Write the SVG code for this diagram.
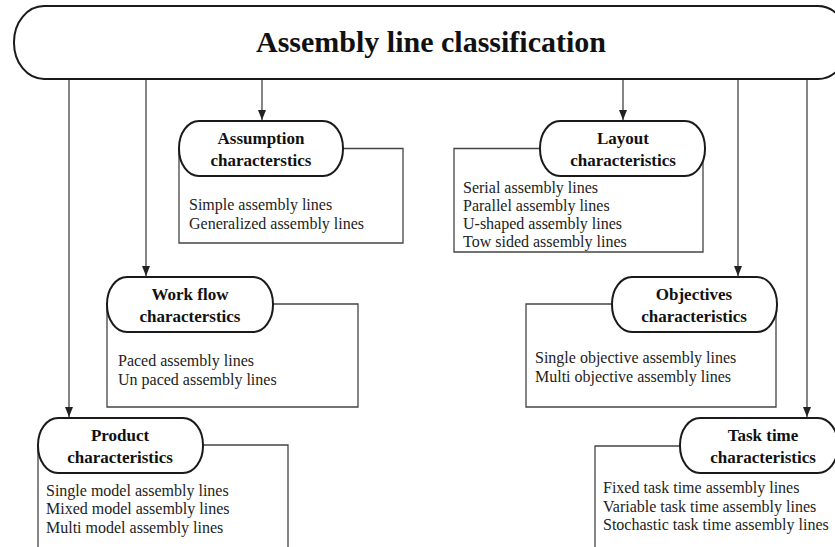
<svg xmlns="http://www.w3.org/2000/svg" width="835" height="547" viewBox="0 0 835 547">
<style>
.pill{fill:#fff;stroke:#1a1a1a;stroke-width:2}
.frame{fill:none;stroke:#444;stroke-width:1.3}
.conn{fill:none;stroke:#333;stroke-width:1.2}
.title{font-family:"Liberation Serif","Times New Roman",serif;font-weight:bold;font-size:30px;fill:#111;text-anchor:middle}
.head{font-family:"Liberation Serif","Times New Roman",serif;font-weight:bold;font-size:17px;fill:#111;text-anchor:middle}
.body{font-family:"Liberation Serif","Times New Roman",serif;font-size:16px;fill:#222}
</style>
<defs>
<marker id="arr" markerUnits="userSpaceOnUse" markerWidth="11" markerHeight="8" refX="10" refY="4" orient="auto" viewBox="0 0 11 8">
<path d="M0,0 L10,4 L0,8 Z" fill="#222"/>
</marker>
</defs>
<rect width="835" height="547" fill="#fff"/>

<g id="connectors">
<path class="conn" d="M69,79 V417" marker-end="url(#arr)"/>
<path class="conn" d="M146,79 V276" marker-end="url(#arr)"/>
<path class="conn" d="M262,79 V120" marker-end="url(#arr)"/>
<path class="conn" d="M623,79 V120" marker-end="url(#arr)"/>
<path class="conn" d="M738,79 V276" marker-end="url(#arr)"/>
<path class="conn" d="M807,79 V417" marker-end="url(#arr)"/>
</g>

<g id="root">
<rect class="pill" x="14" y="6" width="834" height="73" rx="30" ry="36"/>
<text class="title" x="431" y="52">Assembly line classification</text>
</g>

<g id="assumption">
<path class="frame" d="M343,148.5 H403 V243 H179 V148.5"/>
<rect class="pill" x="179" y="121" width="164" height="55" rx="20" ry="27"/>
<text class="head" x="261" y="144">Assumption</text>
<text class="head" x="261" y="166">characterstics</text>
<text class="body" x="189" y="210">Simple assembly lines</text>
<text class="body" x="189" y="229">Generalized assembly lines</text>
</g>

<g id="layout">
<path class="frame" d="M540,148.5 H454 V252 H703 V148.5"/>
<rect class="pill" x="540" y="121" width="165" height="55" rx="20" ry="27"/>
<text class="head" x="623" y="144">Layout</text>
<text class="head" x="623" y="166">characteristics</text>
<text class="body" x="463" y="193">Serial assembly lines</text>
<text class="body" x="463" y="211">Parallel assembly lines</text>
<text class="body" x="463" y="229">U-shaped assembly lines</text>
<text class="body" x="463" y="247">Tow sided assembly lines</text>
</g>

<g id="workflow">
<path class="frame" d="M273,304 H358 V407 H107 V304"/>
<rect class="pill" x="107" y="277" width="166" height="55" rx="20" ry="27"/>
<text class="head" x="190" y="300">Work flow</text>
<text class="head" x="190" y="322">characterstics</text>
<text class="body" x="118" y="366">Paced assembly lines</text>
<text class="body" x="118" y="385">Un paced assembly lines</text>
</g>

<g id="objectives">
<path class="frame" d="M612,304 H526 V407 H776 V304"/>
<rect class="pill" x="612" y="277" width="165" height="55" rx="20" ry="27"/>
<text class="head" x="694" y="300">Objectives</text>
<text class="head" x="694" y="322">characteristics</text>
<text class="body" x="535" y="363">Single objective assembly lines</text>
<text class="body" x="535" y="382">Multi objective assembly lines</text>
</g>

<g id="product">
<path class="frame" d="M203,445 H288 V550 M38,445 V550"/>
<rect class="pill" x="38" y="418" width="165" height="55" rx="20" ry="27"/>
<text class="head" x="120" y="441">Product</text>
<text class="head" x="120" y="463">characteristics</text>
<text class="body" x="46" y="496">Single model assembly lines</text>
<text class="body" x="46" y="514">Mixed model assembly lines</text>
<text class="body" x="46" y="533">Multi model assembly lines</text>
</g>

<g id="tasktime">
<path class="frame" d="M680,446 H595 V550"/>
<rect class="pill" x="680" y="418" width="158" height="55" rx="20" ry="27"/>
<text class="head" x="763" y="441">Task time</text>
<text class="head" x="763" y="463">characteristics</text>
<text class="body" x="603" y="493">Fixed task time assembly lines</text>
<text class="body" x="603" y="512">Variable task time assembly lines</text>
<text class="body" x="603" y="530">Stochastic task time assembly lines</text>
</g>
</svg>
